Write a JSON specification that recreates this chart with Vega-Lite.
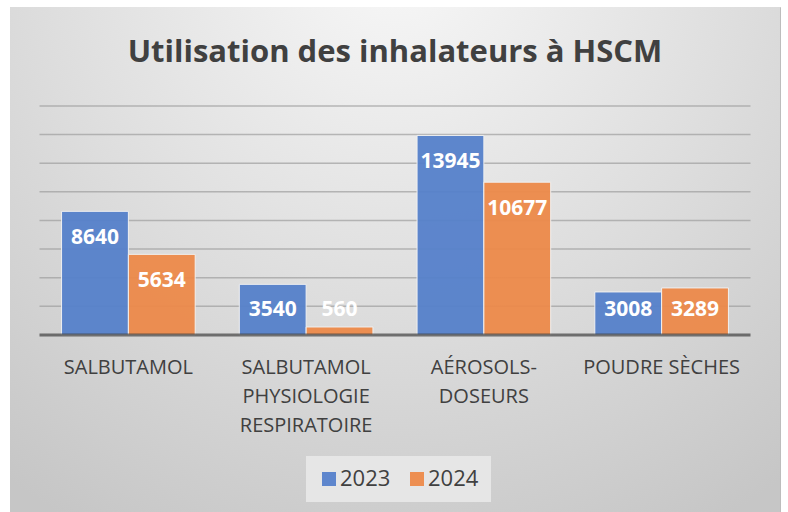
{
  "$schema": "https://vega.github.io/schema/vega-lite/v6.json",
  "width": 770,
  "height": 505,
  "autosize": {"type": "none"},
  "padding": {"left": 10, "top": 7, "right": 8, "bottom": 0},
  "background": "white",
  "config": {
    "view": {"stroke": "#bdbdbd", "strokeWidth": 1, "fill": "#dedede"},
    "font": "Open Sans"
  },
  "title": {
    "text": "Utilisation des inhalateurs à HSCM",
    "font": "Open Sans",
    "fontSize": 31,
    "fontWeight": "bold",
    "color": "#404040",
    "anchor": "middle",
    "frame": "group",
    "offset": -62
  },
  "data": {
    "values": [
      {"cat": "SALBUTAMOL", "year": "2023", "value": 8640},
      {"cat": "SALBUTAMOL", "year": "2024", "value": 5634},
      {"cat": "SALBUTAMOL PHYSIOLOGIE RESPIRATOIRE", "year": "2023", "value": 3540},
      {"cat": "SALBUTAMOL PHYSIOLOGIE RESPIRATOIRE", "year": "2024", "value": 560},
      {"cat": "AÉROSOLS-DOSEURS", "year": "2023", "value": 13945},
      {"cat": "AÉROSOLS-DOSEURS", "year": "2024", "value": 10677},
      {"cat": "POUDRE SÈCHES", "year": "2023", "value": 3008},
      {"cat": "POUDRE SÈCHES", "year": "2024", "value": 3289},
      {"grid": 0},
      {"grid": 2000},
      {"grid": 4000},
      {"grid": 6000},
      {"grid": 8000},
      {"grid": 10000},
      {"grid": 12000},
      {"grid": 14000},
      {"grid": 16000}
    ]
  },
  "layer": [
    {
      "transform": [{"filter": "datum.grid === 16000"}],
      "mark": {
        "type": "rect",
        "fill": {
          "gradient": "radial",
          "x1": 0.5, "y1": 0.1, "r1": 0,
          "x2": 0.5, "y2": 0.1, "r2": 0.85,
          "stops": [
            {"offset": 0, "color": "#f8f8f8"},
            {"offset": 0.55, "color": "#dddddd"},
            {"offset": 1, "color": "#c6c6c6"}
          ]
        }
      },
      "encoding": {}
    },
    {
      "transform": [{"filter": "datum.grid > 0"}],
      "mark": {"type": "tick", "color": "#9e9e9e", "thickness": 1.5, "size": 711, "orient": "horizontal"},
      "encoding": {
        "y": {"field": "grid", "type": "quantitative", "scale": {"domain": [-12367, 22917], "nice": false, "zero": false}, "axis": null}
      }
    },
    {
      "transform": [{"filter": "isValid(datum.value)"}],
      "mark": {"type": "bar", "stroke": "#f2f2f2", "strokeWidth": 1, "opacity": 0.95},
      "encoding": {
        "x": {
          "field": "cat", "type": "nominal", "sort": null,
          "scale": {"domain": ["SALBUTAMOL", "SALBUTAMOL PHYSIOLOGIE RESPIRATOIRE", "AÉROSOLS-DOSEURS", "POUDRE SÈCHES"], "paddingInner": 0, "paddingOuter": 0.166},
          "axis": {
            "title": null, "orient": "bottom", "offset": -177, "domain": false, "ticks": false, "grid": false, "zindex": 1,
            "labelAngle": 0, "labelFontSize": 20, "labelColor": "#404040", "labelFont": "Open Sans",
            "labelPadding": 22, "labelLineHeight": 29, "labelBaseline": "top",
            "labelExpr": "datum.label == 'SALBUTAMOL PHYSIOLOGIE RESPIRATOIRE' ? ['SALBUTAMOL','PHYSIOLOGIE','RESPIRATOIRE'] : datum.label == 'AÉROSOLS-DOSEURS' ? ['AÉROSOLS-','DOSEURS'] : datum.label"
          }
        },
        "xOffset": {"field": "year", "type": "nominal", "scale": {"paddingInner": 0, "paddingOuter": 0.33}},
        "y": {"field": "value", "type": "quantitative"},
        "color": {
          "field": "year", "type": "nominal",
          "scale": {"domain": ["2023", "2024"], "range": ["#5681cb", "#ed8a4a"]},
          "legend": {
            "title": null, "orient": "none", "direction": "horizontal", "legendX": 296, "legendY": 449,
            "fillColor": "#e6e6e6", "padding": 12, "symbolType": "square", "symbolSize": 196,
            "symbolStrokeWidth": 0, "labelFontSize": 22, "labelColor": "#404040", "labelFont": "Open Sans",
            "labelOffset": 0, "columnPadding": 15
          }
        }
      }
    },
    {
      "transform": [{"filter": "datum.grid === 0"}],
      "mark": {"type": "tick", "color": "#404040", "thickness": 3, "size": 711, "orient": "horizontal"},
      "encoding": {
        "y": {"field": "grid", "type": "quantitative"}
      }
    },
    {
      "transform": [{"filter": "isValid(datum.value)"}, {"calculate": "max(datum.value - 1886, 1747)", "as": "labelPos"}],
      "mark": {"type": "text", "color": "white", "fontWeight": "bold", "fontSize": 21, "font": "Open Sans", "baseline": "middle"},
      "encoding": {
        "x": {"field": "cat", "type": "nominal", "sort": null},
        "xOffset": {"field": "year", "type": "nominal"},
        "y": {"field": "labelPos", "type": "quantitative"},
        "text": {"field": "value", "type": "quantitative", "format": "d"}
      }
    }
  ]
}
